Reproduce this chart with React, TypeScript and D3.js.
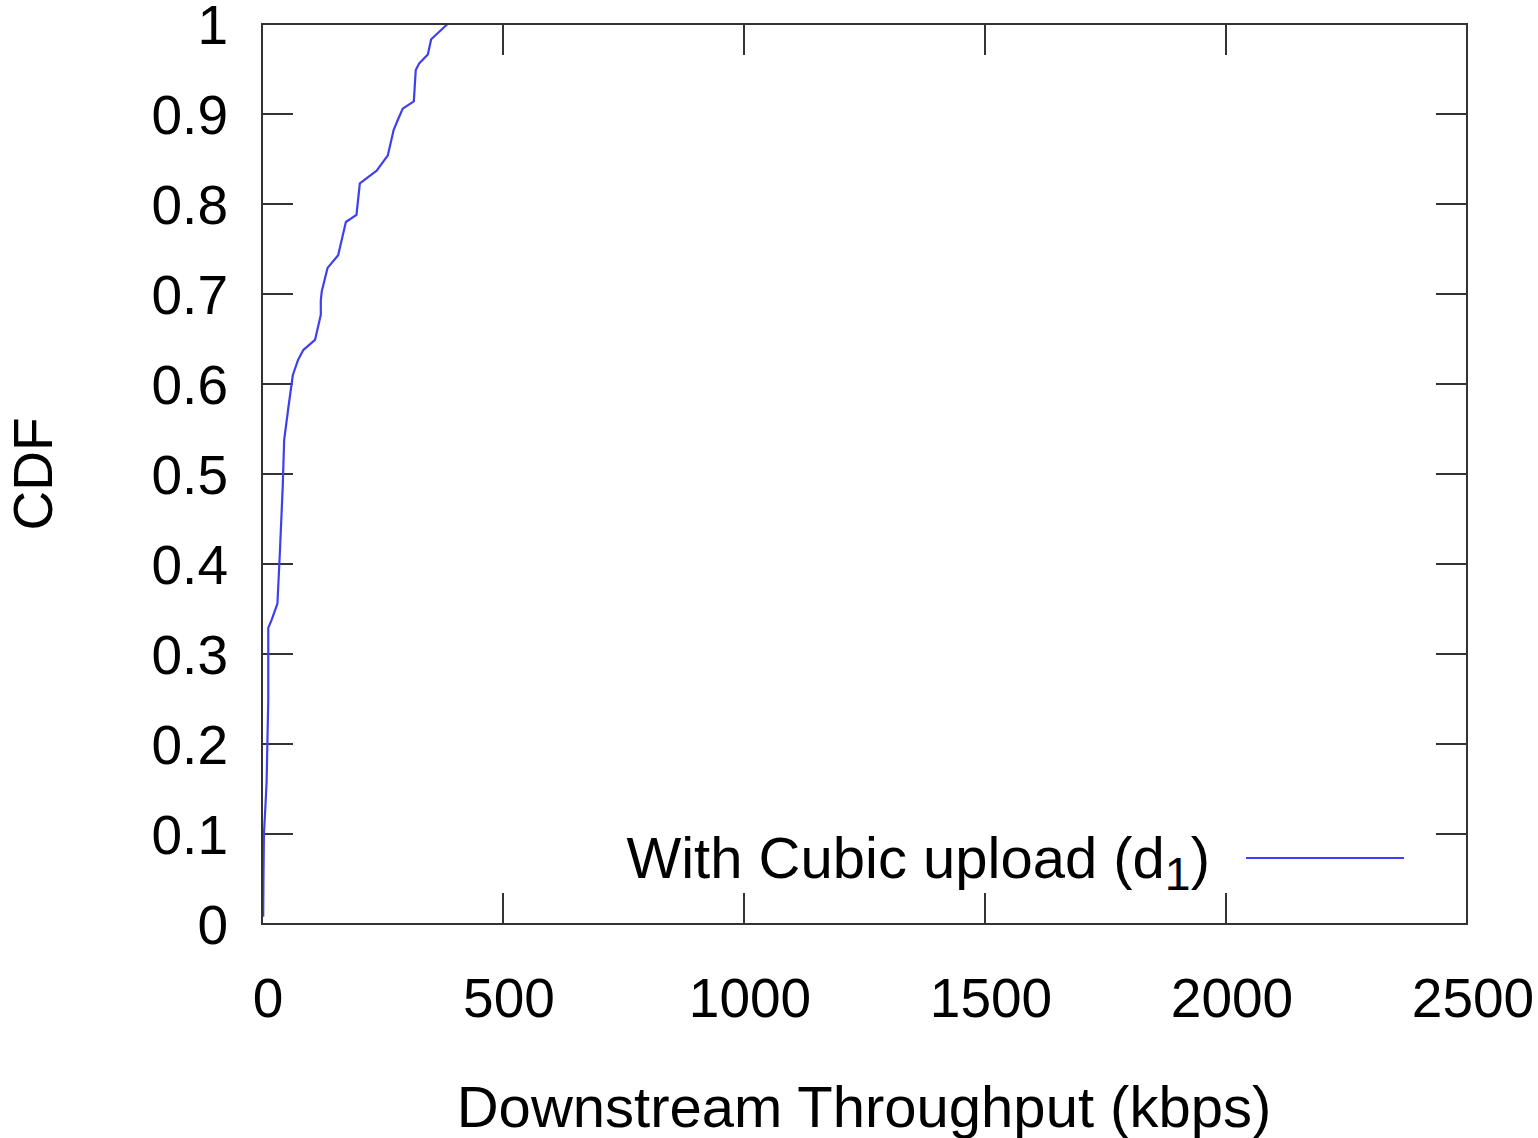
import React from "react";
import * as d3 from "d3";

const throughputKbps = [2.5, 3, 4, 7, 9.5, 13, 13, 13, 20, 32, 37, 43, 46, 55, 64, 75, 86, 110, 122, 122, 124, 136, 158, 174, 196, 203, 238, 261, 273, 283, 292, 315, 319, 326, 344, 351, 385];
const cdfValues = [0.008, 0.05, 0.1, 0.13, 0.157, 0.249, 0.3, 0.329, 0.338, 0.356, 0.412, 0.486, 0.538, 0.575, 0.61, 0.627, 0.638, 0.649, 0.677, 0.693, 0.703, 0.729, 0.743, 0.78, 0.788, 0.823, 0.837, 0.854, 0.882, 0.895, 0.906, 0.914, 0.949, 0.956, 0.966, 0.983, 1.0];
const xTicks = [0, 500, 1000, 1500, 2000, 2500];
const yTicks = [0, 0.1, 0.2, 0.3, 0.4, 0.5, 0.6, 0.7, 0.8, 0.9, 1];
const seriesLabel = "With Cubic upload (d";
const seriesSub = "1";

const W = 1538, H = 1138;
const L = 262, R = 1467, T = 24, B = 924;
const FONT = "'Liberation Sans', Arial, Helvetica, sans-serif";
const FS = 55;
const FS_BIG = 58;
const AXIS = "#333";
const LINE = "#3f3ff0";
const TICK = 31;

export default function App() {
  const x = d3.scaleLinear().domain([0, 2500]).range([L, R]);
  const y = d3.scaleLinear().domain([0, 1]).range([B, T]);
  const pts: [number, number][] = throughputKbps.map((v, i) => [v, cdfValues[i]]);
  const line = d3.line<[number, number]>().x(d => x(d[0])).y(d => y(d[1]));

  return (
    <svg width={W} height={H} style={{ position: "absolute", left: 0, top: 0, background: "#fff" }} fontFamily={FONT}>
      <rect x={0} y={0} width={W} height={H} fill="#fff" />
      {xTicks.map(t => (
        <g key={"x" + t}>
          <line x1={x(t)} x2={x(t)} y1={B} y2={B - TICK} stroke={AXIS} strokeWidth={2} />
          <line x1={x(t)} x2={x(t)} y1={T} y2={T + TICK} stroke={AXIS} strokeWidth={2} />
          <text x={x(t) + 6} y={1017} fontSize={FS} textAnchor="middle" fill="#000">{t}</text>
        </g>
      ))}
      {yTicks.map(t => (
        <g key={"y" + t}>
          <line x1={L} x2={L + TICK} y1={y(t)} y2={y(t)} stroke={AXIS} strokeWidth={2} />
          <line x1={R} x2={R - TICK} y1={y(t)} y2={y(t)} stroke={AXIS} strokeWidth={2} />
          <text x={228} y={y(t) + 20} fontSize={FS} textAnchor="end" fill="#000">{String(t)}</text>
        </g>
      ))}
      <path d={line(pts) || ""} fill="none" stroke={LINE} strokeWidth={2.2} strokeLinejoin="round" />
      <rect x={L} y={T} width={R - L} height={B - T} fill="none" stroke={AXIS} strokeWidth={2} />
      <text x={1210} y={878} fontSize={FS_BIG} textAnchor="end" fill="#000">
        {seriesLabel}
        <tspan fontSize={FS_BIG * 0.8} dy={12}>{seriesSub}</tspan>
        <tspan dy={-12}>)</tspan>
      </text>
      <line x1={1246} x2={1404} y1={858} y2={858} stroke={LINE} strokeWidth={2.2} />
      <text x={864} y={1127} fontSize={FS_BIG} textAnchor="middle" fill="#000">Downstream Throughput (kbps)</text>
      <text transform="translate(52,474) rotate(-90)" fontSize={FS} textAnchor="middle" fill="#000">CDF</text>
    </svg>
  );
}
